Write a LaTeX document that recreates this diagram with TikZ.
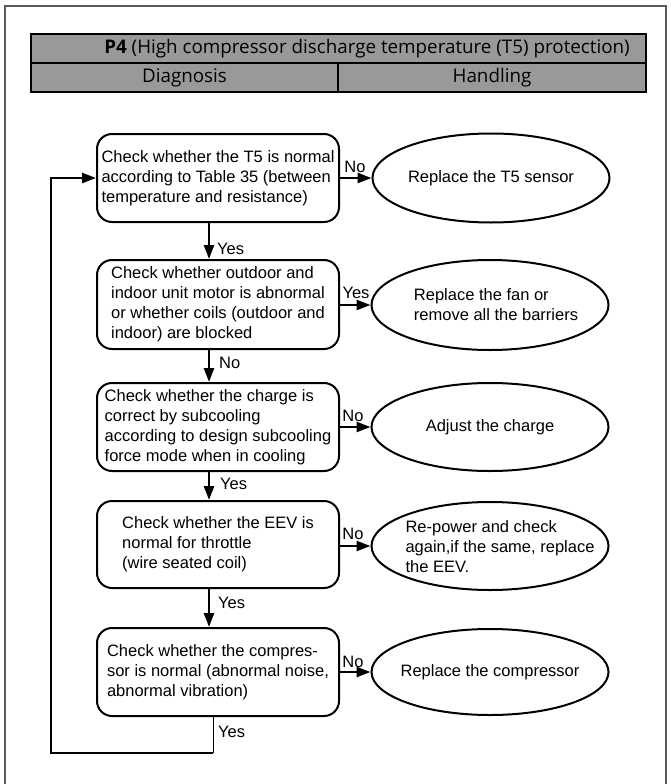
\documentclass[tikz,border=0pt]{standalone}
\usepackage{fontspec}
\setmainfont{Liberation Sans}
\newfontfamily\hdrfont{Open Sans}
\usetikzlibrary{shapes.geometric,arrows.meta}
\definecolor{framegray}{RGB}{90,90,90}
\definecolor{hdrgray}{RGB}{153,153,153}
\newcommand{\boxfont}{\fontsize{16.5}{20}\selectfont}
\newcommand{\hfont}{\hdrfont\fontsize{18.8}{22}\selectfont}
\tikzset{
  cellbox/.style={draw, line width=2pt, fill=hdrgray, inner sep=0pt, font=\hfont},
  stepbox/.style={draw, line width=2pt, rounded corners=15pt, minimum width=242pt, minimum height=88pt, align=left, font=\boxfont, inner sep=2pt},
  oval/.style={draw, ellipse, line width=2pt, minimum width=237pt, minimum height=88pt, inner sep=0pt},
  ovaltext/.style={align=left, font=\boxfont, inner sep=0pt},
  arr/.style={line width=2.5pt, -{Triangle[length=14pt,width=10pt]}},
  lbl/.style={font=\boxfont, inner sep=0pt}
}
\begin{document}
\begin{tikzpicture}[x=1pt,y=-1pt]
\useasboundingbox (0,0) rectangle (671,784);
\begin{scope}
\clip (0,0) rectangle (671,784);
\draw[framegray, line width=1.2pt] (5,6) rectangle (666,820);
\end{scope}
% header
\node[cellbox, minimum width=615pt, minimum height=29pt] (title) at (338.5,48.5) {};
\node[cellbox, minimum width=307pt, minimum height=28pt] (diag) at (184.5,77.5) {Diagnosis};
\node[cellbox, minimum width=308pt, minimum height=28pt] (hand) at (492,77.5) {Handling};
\node[font=\hfont, inner sep=0pt] (ttext) at (367,49) {\textbf{P4} (High compressor discharge temperature (T5) protection)};
% boxes
\node[stepbox] (b1) at (218,178) {Check whether the T5 is normal\\according to Table 35 (between\\temperature and resistance)};
\node[stepbox, minimum height=89pt] (b2) at (218,304.5) {Check whether outdoor and\\indoor unit motor is abnormal\\or whether coils (outdoor and\\indoor) are blocked};
\node[stepbox] (b3) at (218,427) {Check whether the charge is\\correct by subcooling\\according to design subcooling\\force mode when in cooling};
\node[stepbox, minimum height=87pt] (b4) at (218,544.5) {Check whether the EEV is\\normal for throttle\\(wire seated coil)};
\node[stepbox] (b5) at (218,672) {Check whether the compres-\\sor is normal (abnormal noise,\\abnormal vibration)};
% ovals
\node[oval, minimum height=89pt] (e1) at (491,178) {};
\node[ovaltext] at (e1) {Replace the T5 sensor};
\node[oval, minimum height=90pt] (e2) at (490,305) {};
\node[ovaltext] at (496,305) {Replace the fan or\\remove all the barriers};
\node[oval] (e3) at (490,427) {};
\node[ovaltext] at (e3) {Adjust the charge};
\node[oval] (e4) at (490,546) {};
\node[ovaltext] at (500,547) {Re-power and check\\again,if the same, replace\\the EEV.};
\node[oval, minimum height=86pt] (e5) at (490,672) {};
\node[ovaltext] at (e5) {Replace the compressor};
% vertical flow
\coordinate (ax) at (209,0);
\draw[arr] (b1.south -| ax) -- (b2.north -| ax);
\draw[arr] (b2.south -| ax) -- (b3.north -| ax);
\draw[arr] (b3.south -| ax) -- (b4.north -| ax);
\draw[arr] (b4.south -| ax) -- (b5.north -| ax);
\node[lbl, anchor=west] (v1) at (217,249) {Yes};
\node[lbl, anchor=west] (v2) at (219,363) {No};
\node[lbl, anchor=west] (v3) at (220,484) {Yes};
\node[lbl, anchor=west] (v4) at (218,603) {Yes};
\node[lbl, anchor=west] (v5) at (218,732) {Yes};
% horizontal arrows
\draw[arr] (b1.east |- e1) -- (e1.west);
\draw[arr] (b2.east |- e2) -- (e2.west);
\draw[arr] (b3.east |- e3) -- (e3.west);
\draw[arr] (b4.east |- e4) -- (e4.west);
\draw[arr] (b5.east |- e5) -- (e5.west);
\node[lbl] (h1) at (355,167) {No};
\node[lbl] (h2) at (356,293) {Yes};
\node[lbl] (h3) at (353,416) {No};
\node[lbl] (h4) at (353,534) {No};
\node[lbl] (h5) at (353,662) {No};
% loop back
\coordinate (lp1) at (213,753);
\coordinate (lp2) at (51,753);
\draw[line width=1pt] (b5.south -| lp1) -- (lp1);
\draw[line width=2.5pt, -{Triangle[length=14pt,width=10pt]}] (lp1) -- (lp2) |- (b1.west);
\end{tikzpicture}
\end{document}
